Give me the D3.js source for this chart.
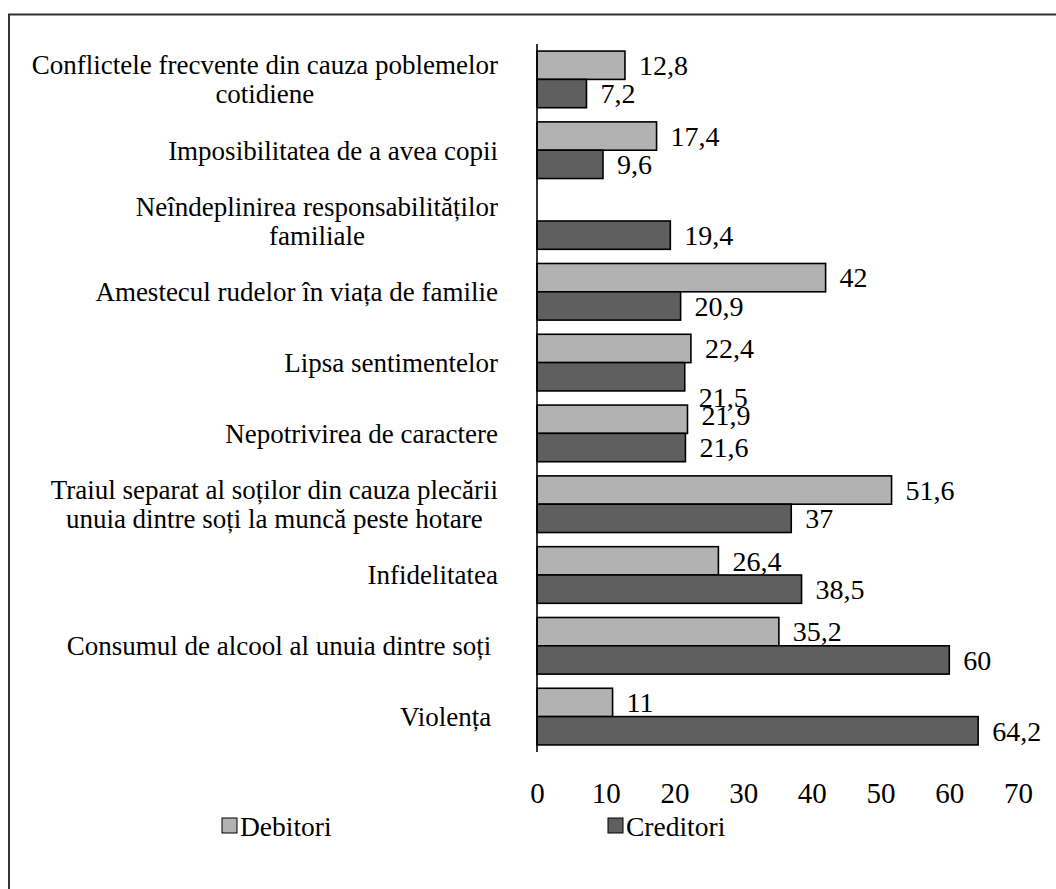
<!DOCTYPE html>
<html>
<head>
<meta charset="utf-8">
<script src="https://cdn.jsdelivr.net/npm/d3@7"></script>
<style>
  html, body { margin: 0; padding: 0; background: #fff; }
  svg text { font-family: "Liberation Serif", "DejaVu Serif", serif; white-space: pre; }
</style>
</head>
<body>
<svg id="chart" width="1056" height="889"></svg>
<script>
// ---- data ----
const categories = [
  "Conflictele frecvente din cauza poblemelor\ncotidiene",
  "Imposibilitatea de a avea copii",
  "Neîndeplinirea responsabilităților\nfamiliale",
  "Amestecul rudelor în viața de familie",
  "Lipsa sentimentelor",
  "Nepotrivirea de caractere",
  "Traiul separat al soților din cauza plecării\nunuia dintre soți la muncă peste hotare",
  "Infidelitatea",
  "Consumul de alcool al unuia dintre soți ",
  "Violența "
];
const seriesNames = ["Debitori", "Creditori"];
const debitori  = [12.8, 17.4, null, 42, 22.4, 21.9, 51.6, 26.4, 35.2, 11];
const creditori = [7.2, 9.6, 19.4, 20.9, 21.5, 21.6, 37, 38.5, 60, 64.2];
const xTicks = [0, 10, 20, 30, 40, 50, 60, 70];

// ---- style ----
const colors = { "Debitori": "#b2b2b2", "Creditori": "#5f5f5f" };
const CAT_FONT = 27, VAL_FONT = 28, TICK_FONT = 29, LEG_FONT = 27.5;
// label nudges (as placed in the original)
const labelShift = { "4|Creditori": 20, "5|Debitori": -4 };

const svg = d3.select("#chart");

// outer frame
svg.append("rect")
  .attr("x", 9).attr("y", 14.5)
  .attr("width", 1100).attr("height", 950)
  .attr("fill", "none").attr("stroke", "#333").attr("stroke-width", 2);

const pLeft = 537, pRight = 1018, pTop = 44, pBottom = 752;

const x = d3.scaleLinear().domain([0, 70]).range([pLeft, pRight]);
const y = d3.scaleBand().domain(d3.range(categories.length)).range([pTop, pBottom])
  .paddingInner(0.2).paddingOuter(0.1);
const yIn = d3.scaleBand().domain(seriesNames).range([0, y.bandwidth()]);

const rows = categories.map((c, i) => ({ i, c, vals: [
  { s: "Debitori", v: debitori[i] },
  { s: "Creditori", v: creditori[i] }
]}));

const g = svg.append("g");
const groups = g.selectAll("g.cat").data(rows).join("g")
  .attr("class", "cat")
  .attr("transform", d => `translate(0,${y(d.i)})`);

groups.selectAll("rect").data(d => d.vals.filter(e => e.v != null)).join("rect")
  .attr("x", x(0))
  .attr("y", e => yIn(e.s))
  .attr("width", e => x(e.v) - x(0))
  .attr("height", yIn.bandwidth())
  .attr("fill", e => colors[e.s])
  .attr("stroke", "#000")
  .attr("stroke-width", 1.6);

groups.each(function(d) {
  d3.select(this).selectAll("text.val")
    .data(d.vals.filter(e => e.v != null)).join("text")
    .attr("class", "val")
    .attr("x", e => x(e.v) + 14)
    .attr("y", e => yIn(e.s) + yIn.bandwidth() / 2 + (labelShift[d.i + "|" + e.s] || 0))
    .attr("dy", "0.35em")
    .attr("font-size", VAL_FONT)
    .attr("fill", "#000")
    .text(e => String(e.v).replace(".", ","));
});

// category labels
const labelRight = 498;
rows.forEach(d => {
  const lines = d.c.split("\n");
  const cy = y(d.i) + y.bandwidth() / 2;
  const t = svg.append("text").attr("font-size", CAT_FONT).attr("fill", "#000");
  const lh = 29;
  const spans = lines.map((ln, k) => t.append("tspan")
    .attr("y", cy + (k - (lines.length - 1) / 2) * lh)
    .attr("dy", "0.35em")
    .text(ln));
  const w = d3.max(spans, s => s.node().getComputedTextLength());
  const cx = labelRight - w / 2;
  spans.forEach(s => s.attr("x", cx).attr("text-anchor", "middle"));
});

// value axis (labels only)
const xAxis = d3.axisBottom(x).tickValues(xTicks).tickSize(0).tickPadding(0)
  .tickFormat(d3.format("d"));
const ax = svg.append("g").attr("transform", `translate(0,${pBottom + 30})`).call(xAxis);
ax.select(".domain").remove();
ax.selectAll("text").attr("font-size", TICK_FONT).attr("font-family", '"Liberation Serif", serif')
  .attr("fill", "#000").attr("dy", "0.71em");

// category axis line
svg.append("line")
  .attr("x1", pLeft).attr("x2", pLeft)
  .attr("y1", pTop).attr("y2", pBottom)
  .attr("stroke", "#000").attr("stroke-width", 1.6);

// legend
const legendX = [222, 608];
const lg = svg.append("g").attr("transform", "translate(0,826)");
seriesNames.forEach((s, k) => {
  lg.append("rect").attr("x", legendX[k]).attr("y", -8).attr("width", 15).attr("height", 15)
    .attr("fill", colors[s]).attr("stroke", "#000").attr("stroke-width", 1);
  lg.append("text").attr("x", legendX[k] + 18).attr("y", 0).attr("dy", "0.35em")
    .attr("font-size", LEG_FONT).attr("fill", "#000").text(s);
});
</script>
</body>
</html>
